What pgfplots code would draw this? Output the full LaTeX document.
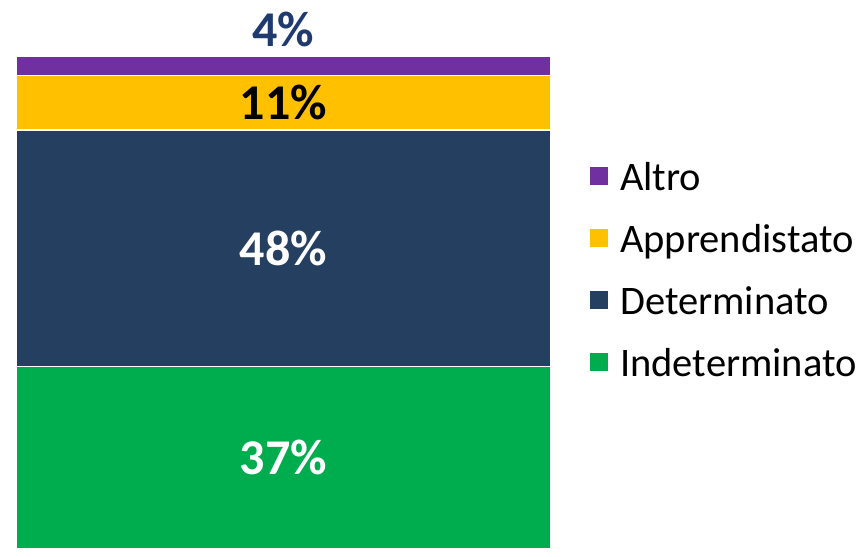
\documentclass[border=0pt]{standalone}
\usepackage{fontspec}
\setmainfont{Carlito}
\usepackage{pgfplots}
\pgfplotsset{compat=1.18}
\definecolor{cAltro}{HTML}{7030A0}
\definecolor{cAppr}{HTML}{FFC000}
\definecolor{cDet}{HTML}{253F60}
\definecolor{cInd}{HTML}{00AD4E}
\definecolor{cLab}{HTML}{1F3A6E}
\tikzset{lab/.style={font=\bfseries\fontsize{50}{60}\selectfont}}

\begin{document}
\begin{tikzpicture}[x=1pt,y=1pt]
\path[use as bounding box] (0,0) rectangle (866,556);
\begin{axis}[
  at={(16pt,7pt)}, anchor=south west,
  width=535pt, height=493pt, scale only axis,
  hide axis, clip=false,
  ybar stacked, bar width=535pt,
  xmin=0, xmax=1, ymin=0, ymax=100,
  reverse legend,
  legend image code/.code={\path[#1,draw=none] (0pt,-5pt) rectangle (18pt,13pt);},
  legend style={
    at={(1,0.559)}, anchor=west, xshift=39pt,
    draw=none, fill=none, inner sep=0pt,
    font=\fontsize{40.5}{48}\selectfont,
    nodes={inner sep=0pt, text height=30pt, text depth=10pt},
    row sep=22pt,
    /tikz/every odd column/.append style={column sep=12pt},
  },
  legend cell align=left,
]
\addplot[fill=cInd, draw=white, line width=1.2pt] coordinates {(0.5,37)};
\addplot[fill=cDet, draw=white, line width=1.2pt] coordinates {(0.5,48)};
\addplot[fill=cAppr, draw=white, line width=1.2pt] coordinates {(0.5,11)};
\addplot[fill=cAltro, draw=white, line width=1.2pt] coordinates {(0.5,4)};
\legend{Indeterminato, Determinato, Apprendistato, Altro}

\coordinate (lInd) at (axis cs:0.5,18.5);
\coordinate (lDet) at (axis cs:0.5,61);
\coordinate (lAppr) at (axis cs:0.5,90.5);
\coordinate (lAltro) at (axis cs:0.5,105.4);
\end{axis}
\node[lab, text=white] at (lInd) {37\%};
\node[lab, text=white] at (lDet) {48\%};
\node[lab, text=black] at (lAppr) {11\%};
\node[lab, text=cLab] at (lAltro) {4\%};
\end{tikzpicture}
\end{document}
